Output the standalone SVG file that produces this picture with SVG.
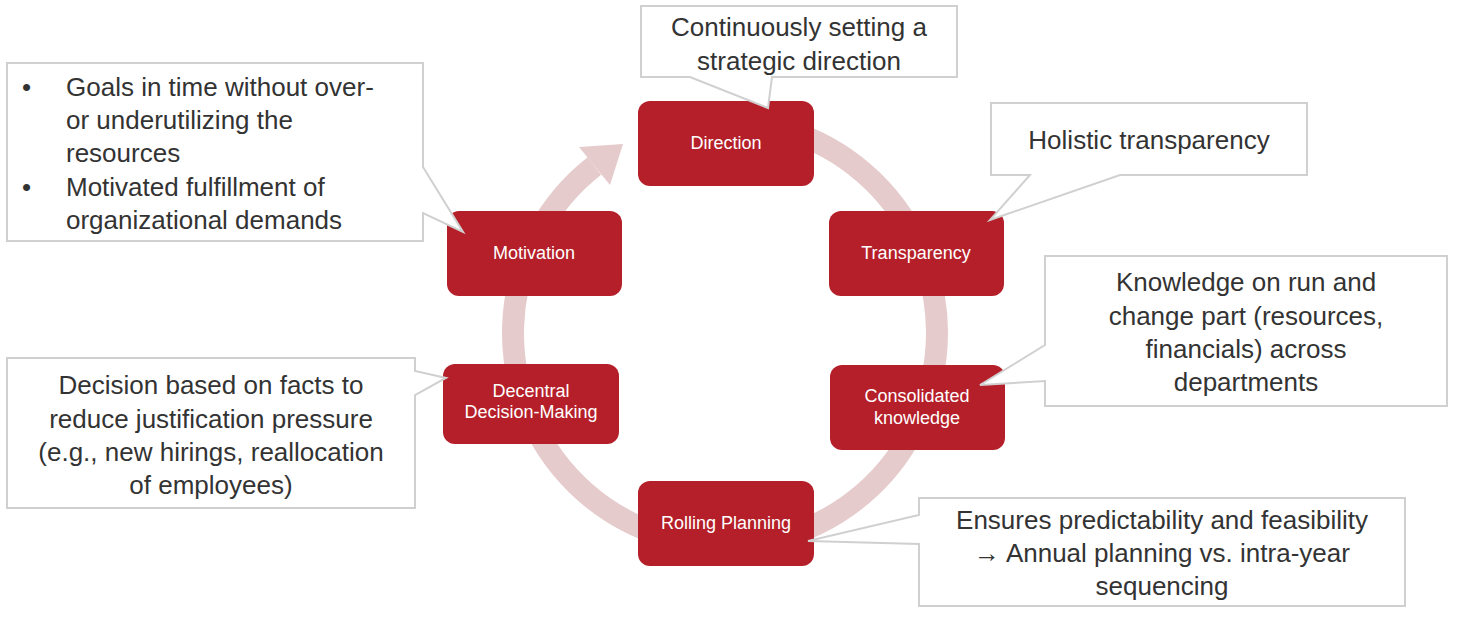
<svg xmlns="http://www.w3.org/2000/svg" width="1462" height="631" viewBox="0 0 1462 631">
<style>
.n{fill:#b51f29}
.nt{fill:#fff;font-family:"Liberation Sans",Arial,sans-serif;font-size:18px;text-anchor:middle}
.c{fill:#fff;stroke:#d0d0d0;stroke-width:2}
.ct{fill:#333;font-family:"Liberation Sans",Arial,sans-serif;font-size:26px}
.m{text-anchor:middle}
</style>
<rect width="1462" height="631" fill="#fff"/>
<g id="connectors">
<path d="M797.5 133.8 A212 212 0 1 1 594.4 166" fill="none" stroke="#e6cbcc" stroke-width="22"/>
<polygon points="579,147 610,185 623,144" fill="#e6cbcc"/>
</g>
<g id="direction"><rect class="n" x="638" y="101" width="176" height="85" rx="12"/><text class="nt" x="726" y="149">Direction</text></g>
<g id="motivation"><rect class="n" x="447" y="211" width="175" height="85" rx="12"/><text class="nt" x="534" y="259">Motivation</text></g>
<g id="transparency"><rect class="n" x="829" y="211" width="175" height="85" rx="12"/><text class="nt" x="916" y="259">Transparency</text></g>
<g id="decentral"><rect class="n" x="443" y="364" width="176" height="80" rx="12"/><text class="nt" x="531" y="397">Decentral</text><text class="nt" x="531" y="418">Decision-Making</text></g>
<g id="consolidated"><rect class="n" x="830" y="365" width="175" height="85" rx="12"/><text class="nt" x="917" y="402">Consolidated</text><text class="nt" x="917" y="424">knowledge</text></g>
<g id="rolling"><rect class="n" x="638" y="481" width="176" height="85" rx="12"/><text class="nt" x="726" y="529">Rolling Planning</text></g>
<g id="callout-direction"><path class="c" d="M641 6 H957 V77 H772 L768 108 L690 77 H641 Z"/><text class="ct m" x="799" y="36">Continuously setting a</text><text class="ct m" x="799" y="70">strategic direction</text></g>
<g id="callout-transparency"><path class="c" d="M991 103 H1307 V175 H1120 L990 220 L1030 175 H991 Z"/><text class="ct m" x="1149" y="149">Holistic transparency</text></g>
<g id="callout-knowledge"><path class="c" d="M1045 256 H1447 V406 H1045 V381 L980 385 L1045 345 Z"/><text class="ct m" x="1246" y="291">Knowledge on run and</text><text class="ct m" x="1246" y="325">change part (resources,</text><text class="ct m" x="1246" y="358">financials) across</text><text class="ct m" x="1246" y="391">departments</text></g>
<g id="callout-rolling"><path class="c" d="M919 498 H1405 V606 H919 V544 L808 541 L919 515 Z"/><text class="ct m" x="1162" y="529">Ensures predictability and feasibility</text><text class="ct m" x="1162" y="562">→ Annual planning vs. intra-year</text><text class="ct m" x="1162" y="595">sequencing</text></g>
<g id="callout-decentral"><path class="c" d="M7 358 H415 V371 L446 378 L415 395 V508 H7 Z"/><text class="ct m" x="211" y="394">Decision based on facts to</text><text class="ct m" x="211" y="428">reduce justification pressure</text><text class="ct m" x="211" y="461">(e.g., new hirings, reallocation</text><text class="ct m" x="211" y="494">of employees)</text></g>
<g id="callout-motivation"><path class="c" d="M7 63 H423 V167 L463 232 L423 213 V241 H7 Z"/><text class="ct" x="22" y="96">•</text><text class="ct" x="66" y="96">Goals in time without over-</text><text class="ct" x="66" y="129">or underutilizing the</text><text class="ct" x="66" y="162">resources</text><text class="ct" x="22" y="196">•</text><text class="ct" x="66" y="196">Motivated fulfillment of</text><text class="ct" x="66" y="229">organizational demands</text></g>
</svg>
